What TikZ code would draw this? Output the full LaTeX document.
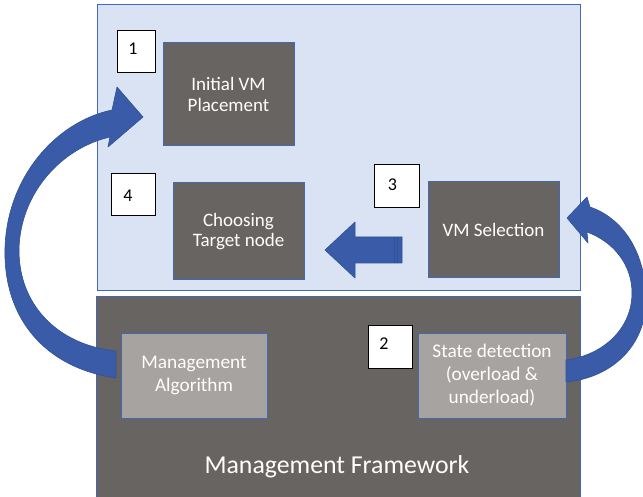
\documentclass[tikz,border=0pt]{standalone}
\usepackage{fontspec}
\setmainfont{Carlito}
\definecolor{panelblue}{RGB}{218,227,243}
\definecolor{edgeblue}{RGB}{68,104,180}
\definecolor{darkgrey}{RGB}{104,100,98}
\definecolor{lightgrey}{RGB}{166,163,161}
\definecolor{arrowblue}{RGB}{58,92,168}
\definecolor{arrowedge}{RGB}{47,82,150}
\tikzset{
  panel/.style={draw=edgeblue, line width=1pt, inner sep=0pt},
  stepbox/.style={draw=edgeblue, line width=1pt, fill=darkgrey, text=white,
    align=center, font=\fontsize{19}{20.5}\selectfont, inner sep=0pt},
  algbox/.style={draw=edgeblue, line width=1pt, fill=lightgrey, text=white,
    align=center, font=\fontsize{19.3}{23}\selectfont, inner sep=0pt},
  numbox/.style={draw=black, line width=1pt, fill=white, inner sep=0pt},
  numtext/.style={text=black, font=\fontsize{18}{20}\selectfont, inner sep=0pt},
  blockarrow/.style={fill=arrowblue, draw=arrowedge, line width=0.6pt, line join=round}
}
\begin{document}
\begin{tikzpicture}[x=1pt, y=-1pt]
\useasboundingbox (0,0) rectangle (643,497);
\begin{scope}
\clip (0,0) rectangle (643,497);

% upper panel
\node[panel, fill=panelblue, minimum width=483pt, minimum height=286pt] (top) at (338.5,148) {};
% lower panel (runs past the lower edge)
\node[panel, fill=darkgrey, minimum width=484pt, minimum height=210pt] (bottom) at (338,402) {};

% steps
\node[stepbox, minimum width=131pt, minimum height=103pt] (place) at (228.5,94.5) {Initial VM\\Placement};
\node[stepbox, minimum width=131pt, minimum height=97pt] (target) at (238.5,231.5) {Choosing\\Target node};
\node[stepbox, minimum width=131pt, minimum height=96pt] (select) at (493.5,230) {VM Selection};
\node[algbox, minimum width=146pt, minimum height=85pt] (algo) at (194,375.5) {Management\\Algorithm};
\node[algbox, minimum width=148pt, minimum height=85pt] (detect) at (492,375.5) {State detection\\(overload \&\\underload)};

% step numbers
\node[numbox, minimum width=38pt, minimum height=42pt] (n1) at (136,52) {};
\node[numtext] (t1) at ([xshift=-3pt,yshift=3pt]n1.center) {1};
\node[numbox, minimum width=44pt, minimum height=42pt] (n4) at (133,195) {};
\node[numtext] (t4) at ([xshift=-5pt,yshift=-1pt]n4.center) {4};
\node[numbox, minimum width=45pt, minimum height=43pt] (n3) at (396.5,186.5) {};
\node[numtext] (t3) at ([xshift=-4pt,yshift=2pt]n3.center) {3};
\node[numbox, minimum width=44pt, minimum height=43pt] (n2) at (390,346.5) {};
\node[numtext] (t2) at ([xshift=-6pt,yshift=3pt]n2.center) {2};

% framework caption
\node[text=white, font=\fontsize{25.8}{30}\selectfont, inner sep=0pt] (fw) at (337,467) {Management Framework};

% curved arrow: algorithm -> initial placement
\path[blockarrow]
  (116,378) .. controls (45,368) and (3,318) .. (5,248)
  .. controls (7,178) and (55,122) .. (112,110)
  -- (117,87) -- (143,117) -- (108,147) -- (110,137)
  .. controls (62,148) and (21,192) .. (19,248)
  .. controls (18,305) and (58,345) .. (116,351) -- cycle;

% curved arrow: state detection -> VM selection
\path[blockarrow]
  (566,382) .. controls (612,378) and (648,345) .. (646,295)
  .. controls (644,250) and (622,218) .. (590,207)
  -- (587,197) -- (567,218) -- (588,243) -- (587,232)
  .. controls (614,242) and (632,265) .. (632,293)
  .. controls (632,328) and (604,355) .. (566,360) -- cycle;

% block arrow: VM selection -> choosing target node
\path[blockarrow]
  (402,237) -- (355,237) -- (355,222) -- (325,250) -- (355,278)
  -- (355,263) -- (402,263) -- cycle;
\draw[arrowedge, line width=0.6pt] (394,237) -- (394,263) (397,237) -- (397,263);
\end{scope}
\end{tikzpicture}
\end{document}
